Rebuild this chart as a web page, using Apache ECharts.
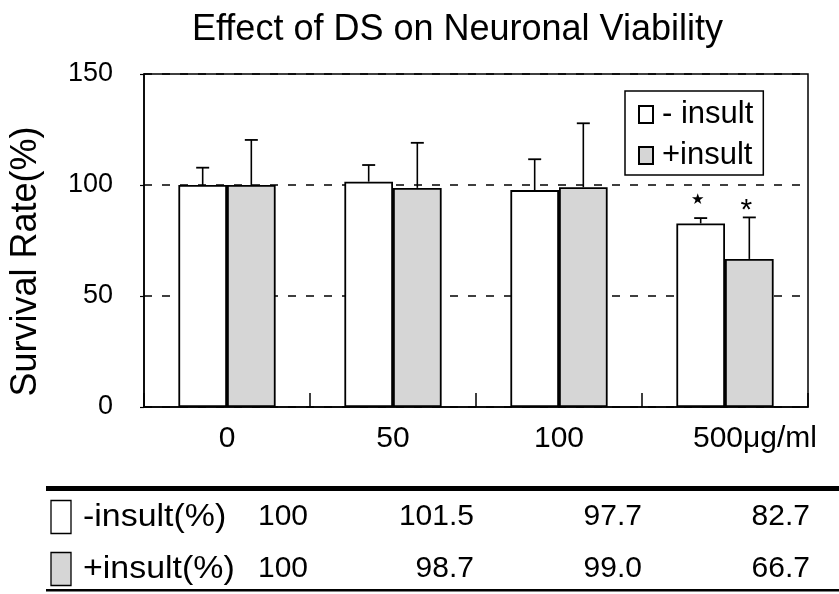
<!DOCTYPE html>
<html>
<head>
<meta charset="utf-8">
<script src="https://cdn.jsdelivr.net/npm/echarts@6/dist/echarts.min.js"></script>
<style>
  html, body { margin: 0; padding: 0; background: #fff; }
  #chart { width: 839px; height: 594px; }
</style>
</head>
<body>
<div id="chart"></div>
<script>
// ---- data ----
const categories = ['0', '50', '100', '500μg/ml'];
const seriesNames = ['- insult', '+insult'];
const minusInsult = [100, 101.5, 97.7, 82.7];
const plusInsult = [100, 98.7, 99.0, 66.7];
const minusErrTop = [107.8, 109, 111.6, 85.1];
const plusErrTop = [120.3, 119, 127.8, 85.4];
const minusMarks = ['', '', '', '★'];
const plusMarks = ['', '', '', '*'];
const yMin = 0, yMax = 150, yStep = 50;
const tableLabels = ['-insult(%)', '+insult(%)'];

const FONT = "'Liberation Sans', Arial, Helvetica, sans-serif";
const GRAY = '#d6d6d6';
const BAR_W = 0.293;

const chart = echarts.init(document.getElementById('chart'), null, { renderer: 'canvas' });

function errorSeries(name, values, tops, marks, sign) {
  return {
    type: 'custom',
    name: name + ' err',
    z: 5,
    silent: true,
    data: categories.map((c, i) => [i, values[i], tops[i]]),
    renderItem: function (params, api) {
      const i = api.value(0);
      const xc = api.coord([i, 0])[0];
      const band = api.size([1, 0])[0];
      const x = xc + sign * band * BAR_W / 2;
      const yBar = api.coord([i, api.value(1)])[1];
      const yTop = api.coord([i, api.value(2)])[1];
      const children = [
        { type: 'line', shape: { x1: x, y1: yBar, x2: x, y2: yTop }, style: { stroke: '#000', lineWidth: 1.6 } },
        { type: 'line', shape: { x1: x - 6.5, y1: yTop, x2: x + 6.5, y2: yTop }, style: { stroke: '#000', lineWidth: 1.8 } }
      ];
      const m = marks[params.dataIndex];
      if (m) {
        const isStar = m === '★';
        children.push({
          type: 'text',
          style: {
            x: x - 3, y: isStar ? yTop - 18 : yTop - 7, text: m,
            fill: '#000', align: 'center', verticalAlign: 'middle',
            font: isStar ? "15px 'DejaVu Sans', sans-serif" : "30px " + FONT
          }
        });
      }
      return { type: 'group', children: children };
    }
  };
}

// ---- table under the chart ----
const tableRows = [
  { label: tableLabels[0], values: minusInsult, fill: '#fff' },
  { label: tableLabels[1], values: plusInsult, fill: GRAY }
];
const rowY = [517, 569];
const colRight = [308, 474, 642, 810];
const fmt = (v, i) => (i === 0 ? String(v) : v.toFixed(1));
const graphics = [
  { type: 'rect', shape: { x: 46, y: 486, width: 793, height: 5 }, style: { fill: '#000' } },
  { type: 'rect', shape: { x: 46, y: 589, width: 793, height: 2.5 }, style: { fill: '#000' } }
];
tableRows.forEach((r, ri) => {
  graphics.push({
    type: 'rect', shape: { x: 51, y: rowY[ri] - 16.5, width: 20, height: 33 },
    style: { fill: r.fill, stroke: '#000', lineWidth: 1.3 }
  });
  graphics.push({
    type: 'text', x: 83, y: rowY[ri], scaleX: 1.06,
    style: { text: r.label, font: '32px ' + FONT, fill: '#000', align: 'left', verticalAlign: 'middle' }
  });
  r.values.forEach((v, i) => {
    graphics.push({
      type: 'text', x: colRight[i], y: rowY[ri],
      style: { text: fmt(v, i), font: '30px ' + FONT, fill: '#000', align: 'right', verticalAlign: 'middle' }
    });
  });
});

const option = {
  backgroundColor: '#fff',
  animation: false,
  textStyle: { fontFamily: FONT, color: '#000' },
  title: {
    text: 'Effect of DS on Neuronal Viability',
    left: 187, top: 7,
    textStyle: { fontSize: 36, fontWeight: 'normal', color: '#000', fontFamily: FONT }
  },
  legend: {
    data: seriesNames,
    orient: 'vertical',
    left: 625, top: 91,
    padding: [8, 10, 4, 13],
    itemGap: 10,
    itemWidth: 14, itemHeight: 17,
    icon: 'rect',
    borderColor: '#000', borderWidth: 1.5,
    backgroundColor: '#fff',
    textStyle: { fontSize: 31, color: '#000', fontFamily: FONT, lineHeight: 30, padding: [0, 0, 0, 4] },
    selectedMode: false
  },
  grid: {
    left: 142, right: 31, top: 74, bottom: 187,
    show: true, borderColor: '#000', borderWidth: 1.5, backgroundColor: '#fff'
  },
  xAxis: {
    type: 'category',
    data: categories,
    axisLine: { lineStyle: { color: '#000', width: 1.5 } },
    axisTick: { show: true, inside: true, length: 14, alignWithLabel: false, interval: 0, lineStyle: { color: '#000', width: 1.5 } },
    axisLabel: {
      fontSize: 30, color: '#000', margin: 17, fontFamily: FONT, interval: 0,
      formatter: function (v, i) { return i === categories.length - 1 ? '{u|' + v + '}' : v; },
      rich: { u: { fontSize: 30, color: '#000', fontFamily: FONT, padding: [0, 0, 0, 60] } }
    }
  },
  yAxis: {
    type: 'value',
    min: yMin, max: yMax, interval: yStep,
    name: 'Survival Rate(%)',
    nameLocation: 'middle',
    nameGap: 100,
    nameRotate: 90,
    nameTextStyle: { fontSize: 36, color: '#000', fontFamily: FONT, padding: [0, 42, 0, 0] },
    axisLine: { show: true, lineStyle: { color: '#000', width: 1.5 } },
    axisTick: { show: true, length: 4, lineStyle: { color: '#000', width: 1.2 } },
    axisLabel: { fontSize: 27, color: '#000', margin: 31, fontFamily: FONT },
    splitLine: { show: true, lineStyle: { color: '#000', width: 1.5, type: [8, 10] } }
  },
  series: [
    {
      name: seriesNames[0], type: 'bar', data: minusInsult,
      barWidth: (BAR_W * 100) + '%', barGap: '0%',
      itemStyle: { color: '#fff', borderColor: '#000', borderWidth: 1.8 }
    },
    {
      name: seriesNames[1], type: 'bar', data: plusInsult,
      barWidth: (BAR_W * 100) + '%', barGap: '0%',
      itemStyle: { color: GRAY, borderColor: '#000', borderWidth: 1.8 }
    },
    errorSeries(seriesNames[0], minusInsult, minusErrTop, minusMarks, -1),
    errorSeries(seriesNames[1], plusInsult, plusErrTop, plusMarks, 1)
  ],
  graphic: graphics
};
chart.setOption(option);
</script>
</body>
</html>
